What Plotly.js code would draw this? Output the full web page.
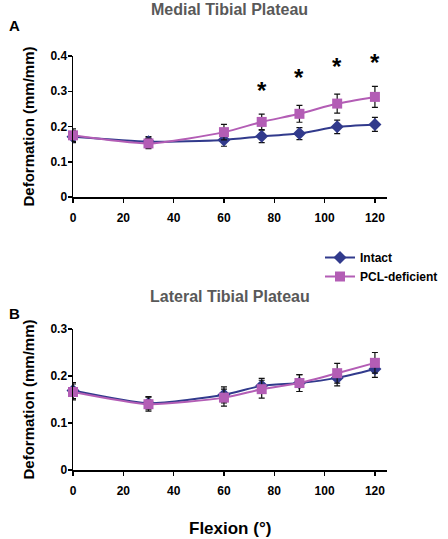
<!DOCTYPE html>
<html>
<head>
<meta charset="utf-8">
<script src="https://cdn.plot.ly/plotly-3.0.1.min.js"></script>
<style>html,body{margin:0;padding:0;background:#fff;}#chart{width:448px;height:539px;}</style>
</head>
<body>
<div id="chart"></div>
<script>
// Flexion angles (degrees)
const flexion = [0, 30, 60, 75, 90, 105, 120];

// Medial tibial plateau (panel A)
const medialIntact = [0.171, 0.157, 0.162, 0.172, 0.180, 0.199, 0.206];
const medialIntactErr = [0.017, 0.014, 0.018, 0.018, 0.017, 0.019, 0.020];
const medialPCL = [0.175, 0.152, 0.184, 0.213, 0.236, 0.265, 0.284];
const medialPCLErr = [0.018, 0.015, 0.022, 0.022, 0.024, 0.027, 0.030];

// Lateral tibial plateau (panel B)
const lateralIntact = [0.169, 0.142, 0.160, 0.179, 0.185, 0.196, 0.215];
const lateralIntactErr = [0.017, 0.014, 0.017, 0.016, 0.018, 0.017, 0.018];
const lateralPCL = [0.166, 0.140, 0.154, 0.172, 0.185, 0.206, 0.228];
const lateralPCLErr = [0.017, 0.015, 0.018, 0.019, 0.018, 0.021, 0.022];

// Significance markers (panel A)
const sigX = [75, 90, 105, 120];
const sigY = [0.302, 0.339, 0.370, 0.382];

const seriesNames = ['Intact', 'PCL-deficient'];
const xTicks = [0, 20, 40, 60, 80, 100, 120];

const cIntact = '#313a8c';
const cPCL = '#b35db5';
const font = 'Arial, "Liberation Sans", sans-serif';

function tr(y, e, name, color, symbol, size, xa, ya, show) {
  return {
    x: flexion, y: y, name: name, type: 'scatter', mode: 'lines+markers',
    xaxis: xa, yaxis: ya, showlegend: show, cliponaxis: false,
    line: {color: color, width: 2, shape: 'spline', smoothing: 0.6},
    marker: {color: color, symbol: symbol, size: size},
    error_y: {type: 'data', array: e, visible: true, color: '#111', thickness: 1.2, width: 3}
  };
}

const data = [
  tr(medialIntact, medialIntactErr, seriesNames[0], cIntact, 'diamond', 10, 'x', 'y', true),
  tr(medialPCL, medialPCLErr, seriesNames[1], cPCL, 'square', 10, 'x', 'y', true),
  tr(lateralIntact, lateralIntactErr, seriesNames[0], cIntact, 'diamond', 10, 'x2', 'y2', false),
  tr(lateralPCL, lateralPCLErr, seriesNames[1], cPCL, 'square', 10, 'x2', 'y2', false)
];

const W = 448, H = 539;
const xdom = [73 / W, 387 / W];
const axCommon = {
  showgrid: false, zeroline: false, showline: true, linecolor: '#000', linewidth: 1.5,
  ticks: 'outside', ticklen: 4, tickwidth: 1.5, tickcolor: '#000',
  tickfont: {family: font, size: 12, color: '#000', weight: 'bold'}
};
const xAx = Object.assign({}, axCommon, {
  range: [0, 124.8], tickvals: xTicks, ticktext: xTicks.map(String), ticklabelstandoff: 5, domain: xdom
});
const yTitle = {text: 'Deformation (mm/mm)', font: {family: font, size: 15, color: '#000', weight: 'bold'}, standoff: 12};

function ann(text, xpx, ypx, size, color, xanchor) {
  return {text: text, xref: 'paper', yref: 'paper', x: xpx / W, y: 1 - ypx / H,
    xanchor: xanchor || 'center', yanchor: 'middle', showarrow: false,
    font: {family: font, size: size, color: color, weight: 'bold'}};
}

const layout = {
  width: W, height: H,
  margin: {l: 0, r: 0, t: 0, b: 0},
  paper_bgcolor: '#fff', plot_bgcolor: '#fff',
  showlegend: true,
  legend: {x: 320 / W, y: 1 - 243 / H, xanchor: 'left', yanchor: 'top',
    font: {family: font, size: 12, color: '#000', weight: 'bold'}, itemwidth: 30, tracegroupgap: 0,
    bgcolor: 'rgba(0,0,0,0)'},
  xaxis: Object.assign({}, xAx, {anchor: 'y'}),
  yaxis: Object.assign({}, axCommon, {range: [0, 0.4], dtick: 0.1, anchor: 'x',
    domain: [1 - 197 / H, 1 - 56 / H], title: yTitle, ticklabelstandoff: -2}),
  xaxis2: Object.assign({}, xAx, {anchor: 'y2'}),
  yaxis2: Object.assign({}, axCommon, {range: [0, 0.3], dtick: 0.1, anchor: 'x2',
    domain: [1 - 470 / H, 1 - 329 / H], title: yTitle, ticklabelstandoff: -2}),
  annotations: [
    ann('Medial Tibial Plateau', 230, 10, 16, '#595959'),
    ann('Lateral Tibial Plateau', 230, 297, 16, '#595959'),
    ann('A', 7, 25, 15, '#000', 'left'),
    ann('B', 7, 313, 15, '#000', 'left'),
    ann('Flexion (°)', 230, 528, 17, '#000')
  ].concat(sigX.map((x, i) => ({
    text: '*', xref: 'x', yref: 'y', x: x, y: sigY[i], showarrow: false, yanchor: 'middle',
    font: {family: font, size: 24, color: '#000', weight: 'bold'}
  })))
};

Plotly.newPlot('chart', data, layout, {displayModeBar: false, staticPlot: true});
</script>
</body>
</html>
